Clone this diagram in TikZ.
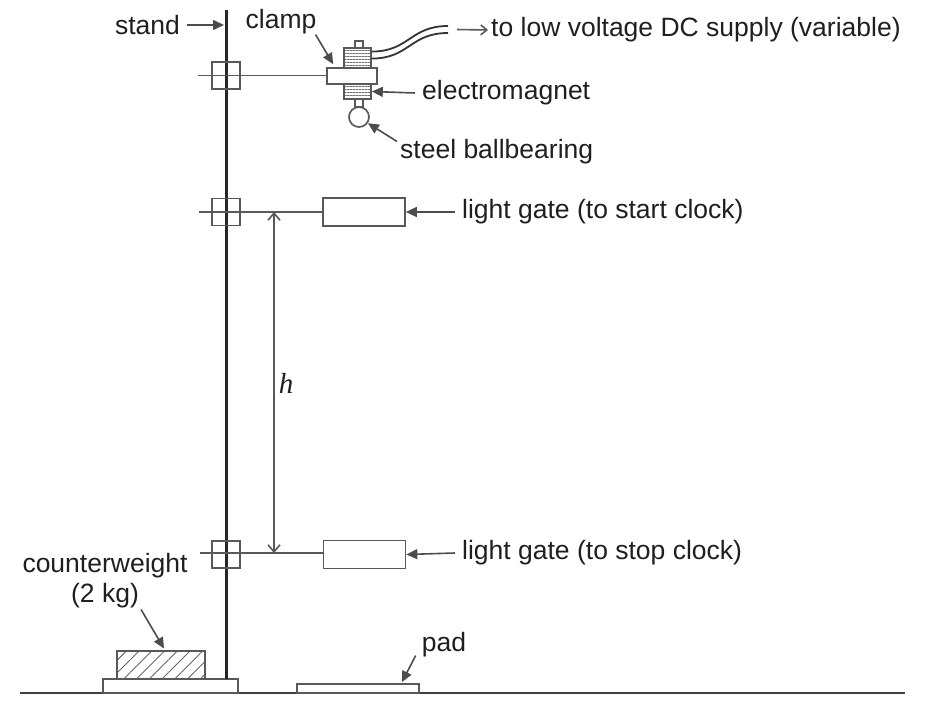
\documentclass[tikz,border=0pt]{standalone}
\usepackage{fontspec}
\setmainfont{Liberation Sans}
\newfontfamily\hfont{Liberation Serif}
\usetikzlibrary{arrows.meta,patterns.meta,calc}
\tikzstyle{holder}=[draw=black!65,line width=1.7pt,inner sep=0pt,minimum width=28pt,minimum height=27pt]
\tikzstyle{gate}=[draw=black!65,line width=1.7pt,fill=white,inner sep=0pt,minimum width=82pt,minimum height=28pt]
\tikzstyle{part}=[draw=black!65,line width=1.7pt,fill=white,inner sep=0pt]
\tikzstyle{coil}=[part,pattern={Lines[angle=0,distance=3pt,line width=0.8pt]},pattern color=black!55]
\tikzstyle{tag}=[font=\fontsize{26.5}{30}\selectfont,text=black!88,inner sep=0pt]
\tikzstyle{arm} = [draw=black!65,line width=1.6pt]
\tikzstyle{pointer} = [draw=black!70,line width=1.6pt,-{Triangle[length=11pt,width=10pt]}]
\tikzstyle{wire} = [draw=black!80,line width=1.8pt]

\begin{document}
\begin{tikzpicture}[x=1pt,y=-1pt]
   \useasboundingbox (0,0) rectangle (936,701);

   % ground, base and stand
   \coordinate (gleft) at (20,693);
   \coordinate (gright) at (905,693);
   \draw[line width=1.8pt,black!75] (gleft) -- (gright);
   \node[part,minimum width=135pt,minimum height=14pt] (base) at (170.5,686) {};
   \node[part,minimum width=88pt,minimum height=28pt,pattern={Lines[angle=45,distance=9pt,line width=0.9pt]},pattern color=black!60] (weight) at (161,665) {};
   \node[part,minimum width=122pt,minimum height=9pt] (pad) at (358,688.5) {};
   \coordinate (rodtop) at (226,10);
   \coordinate (rodbot) at (226,679);
   \draw[line width=3pt,black!85] (rodtop) -- (rodbot);

   \foreach \pos/ \name in {{(226,75.5)/hold1},{(226,212)/hold2},{(226,554.5)/hold3}}
        \node[holder] (\name) at \pos {};

   % electromagnet on its clamp
   \node[coil,minimum width=27pt,minimum height=20pt] (coil1) at (357.5,58) {};
   \node[coil,minimum width=27pt,minimum height=15pt] (coil2) at (357.5,91.5) {};
   \node[part,minimum width=8pt,minimum height=7pt] (nub1) at (359,44.5) {};
   \node[part,minimum width=8pt,minimum height=8pt] (nub2) at (359,103) {};
   \node[part,minimum width=50pt,minimum height=16pt] (clamp) at (352,76) {};
   \node[part,circle,minimum size=20pt] (ball) at (359,117) {};

   \foreach \pos/ \name in {{(364,212)/gate1},{(364.5,554.5)/gate2}}
        \node[gate] (\name) at \pos {};

   \coordinate (arm1) at (198,75.5);
   \coordinate (arm2) at (199,212);
   \coordinate (arm3) at (200,553);
   \draw[arm] (arm1) -- (arm1 -| clamp.west);
   \draw[arm] (arm2) -- (arm2 -| gate1.west);
   \draw[arm] (arm3) -- (arm3 -| gate2.west);

   % leads
   \coordinate (w1) at ($(coil1.north east)+(0,4)$);
   \coordinate (w2) at ($(coil1.north east)+(0,11)$);
   \coordinate (we1) at (448,26);
   \coordinate (we2) at (448,33);
   \draw[wire] (w1) .. controls +(38,0) and +(-38,0) .. (we1);
   \draw[wire] (w2) .. controls +(38,0) and +(-38,0) .. (we2);

   % height between the gates
   \coordinate (htop) at (274,212);
   \coordinate (hbot) at (274,553);
   \draw[black!65,line width=1.6pt,{Straight Barb[length=7pt,width=12pt]}-{Straight Barb[length=7pt,width=12pt]}] (htop) -- (hbot);
   \node[font=\hfont\itshape\fontsize{29}{32}\selectfont,text=black!88,inner sep=0pt] (hlabel) at (286,383) {h};

   % labels
   \foreach \pos/ \name / \label in {{(147.5,25)/lstand/stand},{(281,22)/lclamp/clamp},{(105,566)/lcw1/counterweight},{(105,596)/lcw2/(2 kg)},{(444,645)/lpad/pad}}
        \node[tag] (\name) at \pos {\label};
   \foreach \pos/ \name / \label in {{(491,30)/lsupply/to low voltage DC supply (variable)},{(422,93)/lmag/electromagnet},{(400,152)/lball/steel ballbearing},{(462,212)/lgate1/light gate (to start clock)},{(462,553)/lgate2/light gate (to stop clock)}}
        \node[tag,anchor=west] (\name) at \pos {\label};

   % Connect labels with pointers
   \foreach \source/ \dest in {lmag/coil2,lgate1/gate1,lgate2/gate2}
        \draw[pointer] ($(\source.west)+(-7,0)$) -- (\dest.east);
   \draw[pointer] ($(lstand.east)+(7,0)$) -- ($(rodtop |- lstand.east)+(-2,0)$);
   \draw[pointer] ($(lclamp.south east)+(-1,0)$) -- ($(clamp.north west)+(7,-3)$);
   \draw[pointer] ($(lball.north west)+(-3,2)$) -- (ball.-35);
   \draw[pointer] ($(lcw2.south east)+(2,1)$) -- ($(weight.north)+(3,-2)$);
   \draw[pointer] ($(lpad.south west)+(-6,-2)$) -- ($(pad.north east)+(-18,-1)$);
   \draw[black!65,line width=1.6pt,-{Straight Barb[length=6pt,width=10pt]}] ($(we1)!0.5!(we2)+(9,0)$) -- ($(lsupply.west)+(-3,0)$);

\end{tikzpicture}
\end{document}
